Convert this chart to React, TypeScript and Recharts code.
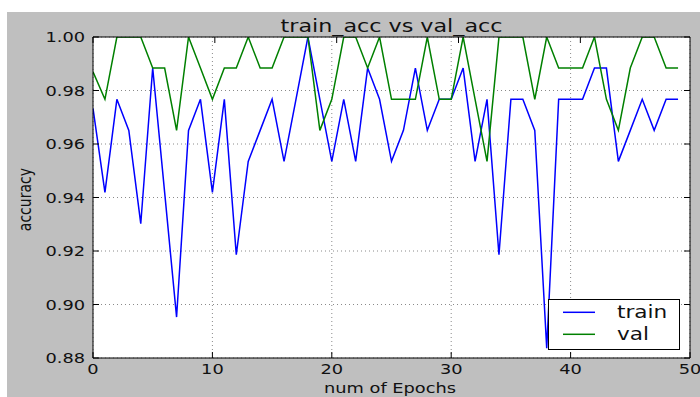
import React from 'react';
import { LineChart, Line, XAxis, YAxis, CartesianGrid } from 'recharts';

// epochs 0..49
const epochs = [
  0, 1, 2, 3, 4, 5, 6, 7, 8, 9,
  10, 11, 12, 13, 14, 15, 16, 17, 18, 19,
  20, 21, 22, 23, 24, 25, 26, 27, 28, 29,
  30, 31, 32, 33, 34, 35, 36, 37, 38, 39,
  40, 41, 42, 43, 44, 45, 46, 47, 48, 49,
];

const trainAcc = [
  0.9733, 0.9419, 0.9767, 0.9651, 0.9302, 0.9884, 0.9419, 0.8953, 0.9651, 0.9767,
  0.9419, 0.9767, 0.9186, 0.9535, 0.9651, 0.9767, 0.9535, 0.9767, 1.0, 0.9767,
  0.9535, 0.9767, 0.9535, 0.9884, 0.9767, 0.9535, 0.9651, 0.9884, 0.9651, 0.9767,
  0.9767, 0.9884, 0.9535, 0.9767, 0.9186, 0.9767, 0.9767, 0.9651, 0.8837, 0.9767,
  0.9767, 0.9767, 0.9884, 0.9884, 0.9535, 0.9651, 0.9767, 0.9651, 0.9767, 0.9767,
];

const valAcc = [
  0.987, 0.9767, 1.0, 1.0, 1.0, 0.9884, 0.9884, 0.9651, 1.0, 0.9884,
  0.9767, 0.9884, 0.9884, 1.0, 0.9884, 0.9884, 1.0, 1.0, 1.0, 0.9651,
  0.9767, 1.0, 1.0, 0.9884, 1.0, 0.9767, 0.9767, 0.9767, 1.0, 0.9767,
  0.9767, 1.0, 0.9767, 0.9535, 1.0, 1.0, 1.0, 0.9767, 1.0, 0.9884,
  0.9884, 0.9884, 1.0, 0.9767, 0.9651, 0.9884, 1.0, 1.0, 0.9884, 0.9884,
];

const xTicks = [0, 10, 20, 30, 40, 50];
const yTicks = [0.88, 0.9, 0.92, 0.94, 0.96, 0.98, 1.0];

const seriesNames = ['train', 'val'];
const seriesColors = ['#0000ff', '#008000'];

const data = epochs.map((epoch, i) => ({ epoch, train: trainAcc[i], val: valAcc[i] }));

// the reference image is stretched sideways, so text gets the same stretch
const STRETCH = 1.27;
const FONT = '"DejaVu Sans", sans-serif';
const INK = '#111';

const LeftTick = ({ x, y, payload }: any) => (
  <g>
    <line x1={x} y1={y} x2={x + 6} y2={y} stroke="#000" />
    <text
      transform={`translate(${x - 8},${y + 5}) scale(${STRETCH},1)`}
      textAnchor="end"
      fontSize={14}
      fontFamily={FONT}
      fill={INK}
    >
      {Number(payload.value).toFixed(2)}
    </text>
  </g>
);

const BottomTick = ({ x, y, payload }: any) => (
  <g>
    <line x1={x} y1={y} x2={x} y2={y - 6} stroke="#000" />
    <text
      transform={`translate(${x},${y + 16.3}) scale(${STRETCH},1)`}
      textAnchor="middle"
      fontSize={14}
      fontFamily={FONT}
      fill={INK}
    >
      {payload.value}
    </text>
  </g>
);

const TopTick = ({ x, y }: any) => <line x1={x} y1={y} x2={x} y2={y + 6} stroke="#000" />;
const RightTick = ({ x, y }: any) => <line x1={x} y1={y} x2={x - 6} y2={y} stroke="#000" />;

const App: React.FC = () => {
  return (
    <div style={{ position: 'absolute', left: 0, top: 0, width: 700, height: 397, background: '#fff' }}>
      <div style={{ position: 'absolute', left: 7, top: 12, width: 693, height: 385, background: '#bfbfbf' }} />
      <div style={{ position: 'absolute', left: 0, top: 0 }}>
        <LineChart width={700} height={397} data={data} margin={{ top: 0, right: 0, bottom: 0, left: 0 }}>
          <CartesianGrid
            xAxisId="bottom"
            yAxisId="left"
            stroke="#8a8a8a"
            strokeDasharray="1 3"
            fill="#fff"
            fillOpacity={1}
          />
          <XAxis
            xAxisId="bottom"
            dataKey="epoch"
            type="number"
            domain={[0, 50]}
            ticks={xTicks}
            interval={0}
            allowDataOverflow
            height={39}
            tickSize={0}
            tickMargin={0}
            tickLine={false}
            axisLine={{ stroke: '#000' }}
            tick={(p: any) => <BottomTick {...p} />}
          />
          <XAxis
            xAxisId="top"
            orientation="top"
            type="number"
            domain={[0, 50]}
            ticks={xTicks}
            interval={0}
            allowDataOverflow
            height={37}
            tickSize={0}
            tickMargin={0}
            tickLine={false}
            axisLine={{ stroke: '#000' }}
            tick={(p: any) => <TopTick {...p} />}
          />
          <YAxis
            yAxisId="left"
            type="number"
            domain={[0.88, 1.0]}
            ticks={yTicks}
            interval={0}
            allowDataOverflow
            width={93}
            tickSize={0}
            tickMargin={0}
            tickLine={false}
            axisLine={{ stroke: '#000' }}
            tick={(p: any) => <LeftTick {...p} />}
          />
          <YAxis
            yAxisId="right"
            orientation="right"
            type="number"
            domain={[0.88, 1.0]}
            ticks={yTicks}
            interval={0}
            allowDataOverflow
            width={10}
            tickSize={0}
            tickMargin={0}
            tickLine={false}
            axisLine={{ stroke: '#000' }}
            tick={(p: any) => <RightTick {...p} />}
          />
          <Line
            xAxisId="bottom"
            yAxisId="left"
            type="linear"
            dataKey="train"
            name={seriesNames[0]}
            stroke={seriesColors[0]}
            strokeWidth={1.5}
            dot={false}
            isAnimationActive={false}
          />
          <Line
            xAxisId="bottom"
            yAxisId="left"
            type="linear"
            dataKey="val"
            name={seriesNames[1]}
            stroke={seriesColors[1]}
            strokeWidth={1.5}
            dot={false}
            isAnimationActive={false}
          />
        </LineChart>
      </div>

      {/* title, axis labels and legend */}
      <svg
        width={700}
        height={397}
        style={{ position: 'absolute', left: 0, top: 0, pointerEvents: 'none' }}
        fontFamily={FONT}
        fill={INK}
      >
        <text transform={`translate(391.5,32.3) scale(${STRETCH},1)`} textAnchor="middle" fontSize={17.5}>
          train_acc vs val_acc
        </text>
        <text transform={`translate(390,392.7) scale(${STRETCH},1)`} textAnchor="middle" fontSize={14}>
          num of Epochs
        </text>
        <text transform={`translate(31,199.6) scale(${STRETCH},1) rotate(-90)`} textAnchor="middle" fontSize={14}>
          accuracy
        </text>

        <rect x={548.5} y={299.5} width={131} height={50} fill="#fff" stroke="#000" />
        {seriesNames.map((name, i) => (
          <g key={name}>
            <line x1={563} x2={595} y1={312.3 + i * 22} y2={312.3 + i * 22} stroke={seriesColors[i]} strokeWidth={1.5} />
            <text transform={`translate(617,${318.3 + i * 22}) scale(${STRETCH},1)`} fontSize={17}>
              {name}
            </text>
          </g>
        ))}
      </svg>
    </div>
  );
};

export default App;
